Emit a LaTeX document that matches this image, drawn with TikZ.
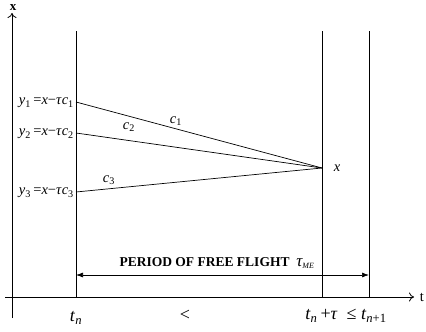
\documentclass[tikz,border=0pt]{standalone}
\usepackage{fontspec}
\setmainfont{Liberation Serif}
\usetikzlibrary{arrows.meta,positioning,calc}
\newcommand{\iv}[1]{\textit{#1}}
\newcommand{\lowix}[1]{\textsubscript{#1}}

\begin{document}
\begin{tikzpicture}[
    x=1pt, y=-1pt,
    font=\fontsize{14.5}{16}\selectfont,
    axis/.style={line width=0.8pt, -{To[length=5pt,width=9pt]}},
    guide/.style={line width=0.7pt},
    ray/.style={line width=0.7pt},
    span/.style={line width=0.7pt, {Latex[length=7pt,width=5pt]}-{Latex[length=7pt,width=5pt]}},
    lab/.style={inner sep=1pt},
    big/.style={inner sep=1pt, font=\fontsize{18}{20}\selectfont}
]
    \useasboundingbox (0,0) rectangle (426,332);

    % axes
    \coordinate (xbot) at (12,318);
    \coordinate (xtop) at (12,13);
    \coordinate (tleft) at (5,297);
    \coordinate (tright) at (414,297);
    \draw[axis] (xbot) -- (xtop);
    \draw[axis] (tleft) -- (tright);
    \node[lab, font=\bfseries\fontsize{13}{15}\selectfont] (xname) at (13,8) {x};
    \node[lab] (tname) at (422,297) {t};

    % time lines
    \coordinate (tntop) at (76,31);
    \coordinate (tnbot) at (76,297);
    \coordinate (tautop) at (322,31);
    \coordinate (taubot) at (322,297);
    \coordinate (nexttop) at (369,31);
    \coordinate (nextbot) at (369,297);
    \draw[guide] (tntop) -- (tnbot);
    \draw[guide] (tautop) -- (taubot);
    \draw[guide] (nexttop) -- (nextbot);

    % characteristics
    \coordinate (p1) at (76,102);
    \coordinate (p2) at (76,133);
    \coordinate (p3) at (76,192);
    \coordinate (xp) at (322,168);
    \draw[ray] (p1) -- (xp);
    \draw[ray] (p2) -- (xp);
    \draw[ray] (p3) -- (xp);
    \node[lab, anchor=east] (y1) at (75,103) {\iv{y}\lowix{1}\,=\iv{x}−\iv{τ}\iv{c}\lowix{1}};
    \node[lab, anchor=east] (y2) at (75,134) {\iv{y}\lowix{2}\,=\iv{x}−\iv{τ}\iv{c}\lowix{2}};
    \node[lab, anchor=east] (y3) at (75,193) {\iv{y}\lowix{3}\,=\iv{x}−\iv{τ}\iv{c}\lowix{3}};
    \node[lab] (c1) at (176,121) {\iv{c}\lowix{1}};
    \node[lab] (c2) at (129,127) {\iv{c}\lowix{2}};
    \node[lab] (c3) at (109,180) {\iv{c}\lowix{3}};
    \node[lab] (xlab) at (337,168) {\iv{x}};

    % free flight
    \coordinate (fl) at (76,275);
    \coordinate (fr) at (369,275);
    \draw[span] (fl) -- (fr);
    \node[lab, font=\bfseries\fontsize{13.5}{15}\selectfont] (period) at (217,263)
        {PERIOD OF FREE FLIGHT\ \ \normalfont\itshape\fontsize{17}{18}\selectfont τ\textsubscript{\fontsize{8}{9}\selectfont ME}};

    % inequality
    \node[big] (tn) at (76,318) {\iv{t}\lowix{\itshape n}};
    \node[big] (less) at (185,315) {<};
    \node[big] (tnt) at (346,316) {\iv{t}\lowix{\itshape n}\,+\iv{τ}\ \ ≤\ \iv{t}\textsubscript{\itshape n\upshape+1}};
\end{tikzpicture}
\end{document}
